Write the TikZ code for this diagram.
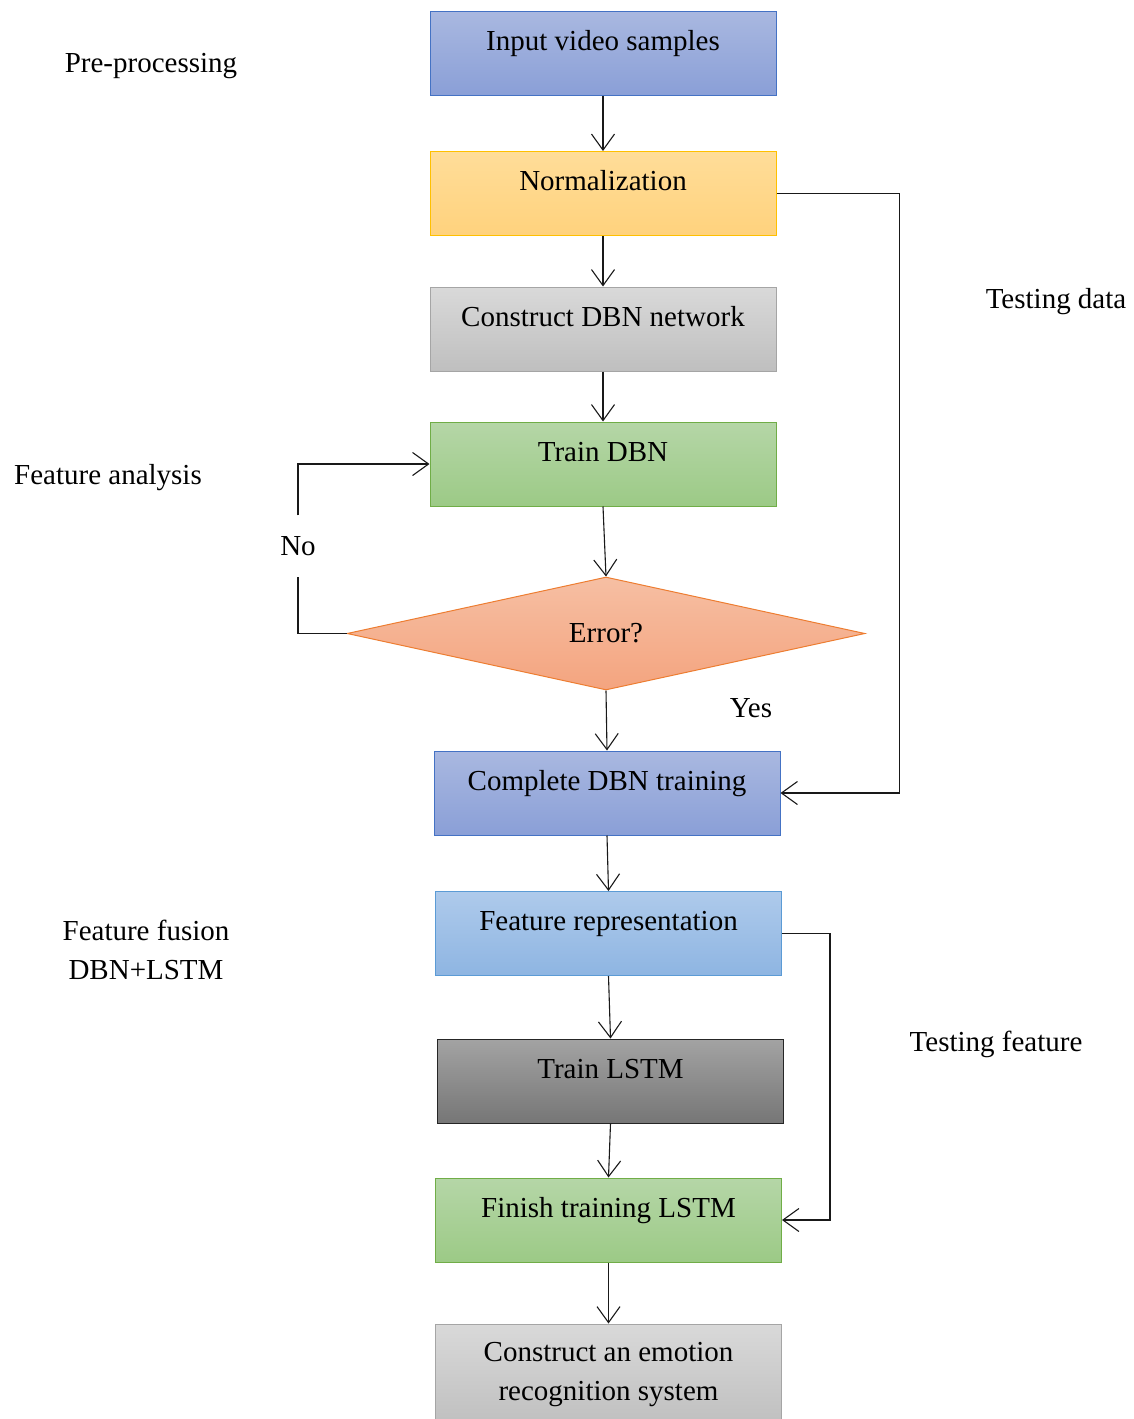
\documentclass[tikz,border=0pt]{standalone}
\usepackage{fontspec}
\setmainfont{Liberation Serif}
\usetikzlibrary{arrows.meta,shapes.geometric}
\definecolor{blueT}{HTML}{A9B8E0}
\definecolor{blueB}{HTML}{8A9FD7}
\definecolor{blueD}{HTML}{4472C4}
\definecolor{yelT}{HTML}{FFDD99}
\definecolor{yelB}{HTML}{FFD27D}
\definecolor{yelD}{HTML}{FFC000}
\definecolor{grayT}{HTML}{D9D9D9}
\definecolor{grayB}{HTML}{BFBFBF}
\definecolor{grayD}{HTML}{A5A5A5}
\definecolor{greenT}{HTML}{B5D6A7}
\definecolor{greenB}{HTML}{9CCA86}
\definecolor{greenD}{HTML}{70AD47}
\definecolor{oraT}{HTML}{F6BFA3}
\definecolor{oraB}{HTML}{F4A47F}
\definecolor{oraD}{HTML}{ED7D31}
\definecolor{lbT}{HTML}{AECAEB}
\definecolor{lbB}{HTML}{8EB5E2}
\definecolor{lbD}{HTML}{5B9BD5}
\definecolor{dgT}{HTML}{A3A3A3}
\definecolor{dgB}{HTML}{767676}
\begin{document}
\begin{tikzpicture}[x=1pt,y=-1pt,
  font=\fontsize{29}{39}\selectfont,
  box/.style={draw, line width=1pt, rectangle, minimum width=346pt, minimum height=84pt, inner sep=0pt, align=center},
  raised/.style={text height=17pt, text depth=23pt},
  bluebox/.style={box, raised, draw=blueD, top color=blueT, bottom color=blueB},
  yelbox/.style={box, raised, draw=yelD, top color=yelT, bottom color=yelB},
  graybox/.style={box, draw=grayD, top color=grayT, bottom color=grayB},
  greenbox/.style={box, raised, draw=greenD, top color=greenT, bottom color=greenB},
  lbbox/.style={box, raised, draw=lbD, top color=lbT, bottom color=lbB},
  dgbox/.style={box, raised, draw=black!85, top color=dgT, bottom color=dgB},
  conn/.style={line width=1.1pt, draw=black!90, -{Straight Barb[length=16pt,width=23pt,line width=1.1pt]}},
  plain/.style={line width=1.1pt, draw=black!90},
  lbl/.style={inner sep=0pt}
]
\useasboundingbox (0,0) rectangle (1133,1419);

\node[bluebox] (in) at (603,53) {Input video samples};
\node[yelbox] (norm) at (603,193.5) {Normalization};
\node[graybox, raised] (net) at (603,329) {Construct DBN network};
\node[greenbox] (tdbn) at (603,464) {Train DBN};
\node[draw=oraD, line width=1pt, diamond, top color=oraT, bottom color=oraB, minimum width=518pt, minimum height=113pt, inner sep=0pt] (err) at (606,633.5) {Error?};
\node[bluebox] (cdbn) at (607,793) {Complete DBN training};
\node[lbbox] (frep) at (608.5,933.5) {Feature representation};
\node[dgbox] (tlstm) at (610.5,1081) {Train LSTM};
\node[greenbox] (flstm) at (608.5,1220) {Finish training LSTM};
\node[graybox, minimum height=102pt] (sys) at (608.5,1375) {Construct an emotion\\recognition system};

\node[lbl, minimum height=61pt] (no) at (298,546) {No};
\node[lbl] (yes) at (751,708) {Yes};
\node[lbl] (pre) at (151,66) {Pre-processing};
\node[lbl] (fa) at (108,478) {Feature analysis};
\node[lbl] (td) at (1056,302) {Testing data};
\node[lbl, align=center] (ff) at (146,950) {Feature fusion\\DBN+LSTM};
\node[lbl] (tf) at (996,1044) {Testing feature};

\draw[conn] (in.south) -- (norm.north);
\draw[conn] (norm.south) -- (net.north);
\draw[conn] (net.south) -- (tdbn.north);
\draw[conn] (tdbn.south) -- (err.north);
\draw[conn] (err.south) -- (cdbn.north);
\draw[conn] (cdbn.south) -- (frep.north);
\draw[conn] (frep.south) -- (tlstm.north);
\draw[conn] (tlstm.south) -- (flstm.north);
\draw[conn] (flstm.south) -- (sys.north);

\draw[conn] (norm.east) -- ++(123,0) |- (cdbn.east);
\draw[conn] (frep.east) -- ++(48,0) |- (flstm.east);
\draw[plain] (err.west) -| (no.south);
\draw[conn] (no.north) |- (tdbn.west);
\end{tikzpicture}
\end{document}
